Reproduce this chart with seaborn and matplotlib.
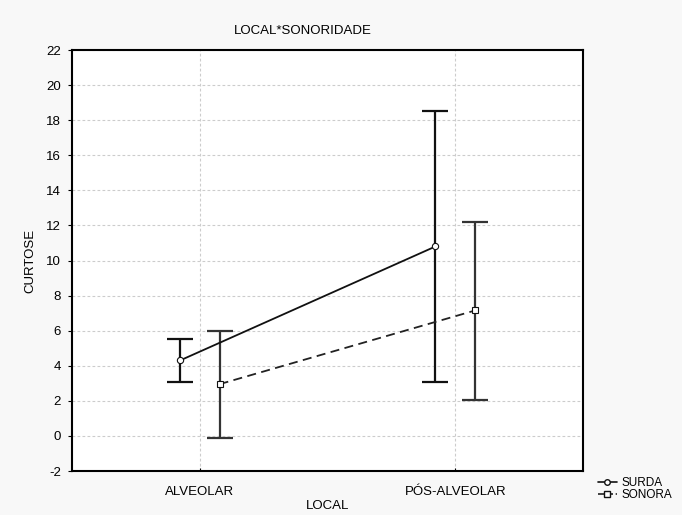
import numpy as np
import pandas as pd
import matplotlib
matplotlib.use("Agg")
import matplotlib.pyplot as plt
import seaborn as sns
from matplotlib.lines import Line2D

# ---- data ----
locais = ["ALVEOLAR", "PÓS-ALVEOLAR"]
grupos = ["SURDA", "SONORA"]
surda_mean = [4.3, 10.8]
surda_low = [3.1, 3.1]
surda_high = [5.5, 18.5]
sonora_mean = [2.95, 7.15]
sonora_low = [-0.1, 2.05]
sonora_high = [6.0, 12.2]
y_ticks = list(range(-2, 23, 2))

df = pd.DataFrame({
    "LOCAL": locais * 2,
    "SONORIDADE": [grupos[0]] * 2 + [grupos[1]] * 2,
    "CURTOSE": surda_mean + sonora_mean,
    "low": surda_low + sonora_low,
    "high": surda_high + sonora_high,
})

sns.set_style("white")
plt.rcParams["font.family"] = ["Liberation Sans", "DejaVu Sans"]
plt.rcParams["text.color"] = "black"
plt.rcParams["axes.labelcolor"] = "black"
plt.rcParams["xtick.color"] = "black"
plt.rcParams["ytick.color"] = "black"

FS = 9.5

fig = plt.figure(figsize=(6.82, 5.15), dpi=100, facecolor="#f8f8f8")
ax = fig.add_axes([72 / 682, 44 / 515, 511 / 682, 421 / 515])
ax.set_facecolor("white")

sns.pointplot(data=df, x="LOCAL", y="CURTOSE", hue="SONORIDADE",
              order=locais, hue_order=grupos, dodge=0.155, errorbar=None,
              markers=["o", "s"], linestyles=["-", "--"],
              palette=["#111111", "#222222"], ax=ax, legend=False)

lines = [l for l in ax.get_lines() if len(l.get_xdata()) == 2]
for ln in lines:
    ln.set_linewidth(1.3)
    ln.set_markersize(4.5)
    ln.set_markerfacecolor("white")
    ln.set_markeredgecolor("#111111")
    ln.set_markeredgewidth(0.8)
    ln.set_zorder(5)
lines[1].set_dashes([5, 3])

err_colors = ["#111111", "#333333"]
for i, g in enumerate(grupos):
    sub = df[df["SONORIDADE"] == g]
    xs = lines[i].get_xdata()
    m = sub["CURTOSE"].values
    yerr = [m - sub["low"].values, sub["high"].values - m]
    ax.errorbar(xs, m, yerr=yerr, fmt="none", ecolor=err_colors[i],
                elinewidth=1.6, capsize=9.5, capthick=1.6, zorder=4)

ax.set_xlim(-0.5, 1.5)
ax.set_ylim(-2, 22)
ax.set_yticks(y_ticks)
ax.set_yticklabels([str(t) for t in y_ticks])
ax.grid(True, color="#cccccc", linestyle=(0, (2.5, 2)), linewidth=0.8)
ax.set_axisbelow(True)
for s in ax.spines.values():
    s.set_color("black")
    s.set_linewidth(1.5)
    s.set_visible(True)
ax.tick_params(axis="y", direction="out", length=3, width=0.8, labelsize=FS, pad=5, left=True)
ax.tick_params(axis="x", direction="in", length=2, width=0.8, labelsize=FS, pad=11, bottom=True)
ax.set_xlabel("LOCAL", fontsize=FS)
ax.set_ylabel("CURTOSE", fontsize=FS)
ax.xaxis.set_label_coords(0.5, -0.07)
ax.yaxis.set_label_coords(-0.07, 0.5)
fig.text(303 / 682, 1 - 31 / 515, "LOCAL*SONORIDADE", ha="center", va="center", fontsize=FS)

handles = [
    Line2D([], [], color="#111111", linestyle="-", marker="o", markersize=4,
           markerfacecolor="white", markeredgecolor="#111111", linewidth=1.2),
    Line2D([], [], color="#222222", linestyle="--", marker="s", markersize=4,
           markerfacecolor="white", markeredgecolor="#111111", linewidth=1.2),
]
fig.legend(handles, grupos, loc="center left", bbox_to_anchor=(598 / 682, 1 - 489 / 515),
           frameon=False, fontsize=8.5, handlelength=1.6, handletextpad=0.35,
           labelspacing=0.0, borderpad=0, borderaxespad=0)

fig.savefig("out.png", dpi=100, facecolor=fig.get_facecolor())
